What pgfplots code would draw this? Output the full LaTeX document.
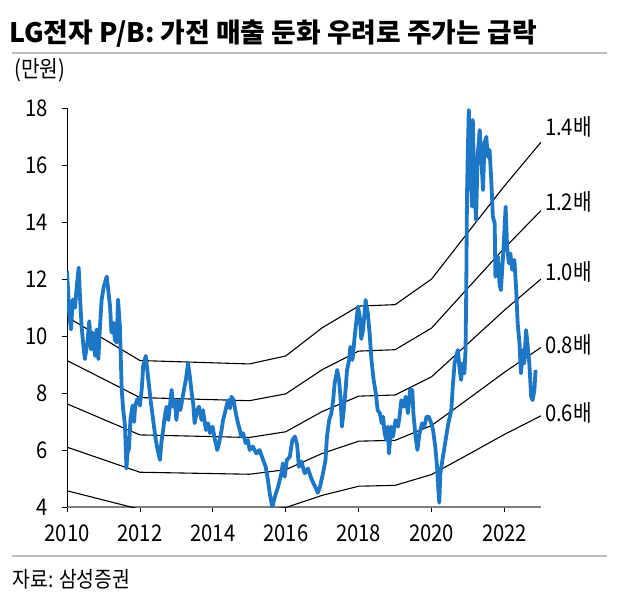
\documentclass[border=0pt]{standalone}
\usepackage{fontspec}
\setmainfont{Noto Sans CJK KR}[FakeStretch=0.88]
\newfontfamily\titlefont{Noto Sans CJK KR}
\usepackage{pgfplots}
\pgfplotsset{compat=1.18}
\definecolor{lgblue}{RGB}{28,120,198}
\definecolor{rulegray}{RGB}{190,190,190}
\begin{document}
\begin{tikzpicture}
\useasboundingbox (0,0) rectangle (313.5pt,-306pt);
\node[anchor=base west, inner sep=0pt, font=\titlefont\fontsize{13.4}{14}\selectfont\bfseries] at (4.5pt,-21pt) {LG전자 P/B: 가전 매출 둔화 우려로 주가는 급락};
\draw[rulegray, line width=0.75pt] (6pt,-26.5pt) -- (303.5pt,-26.5pt);
\node[anchor=west, inner sep=0pt, font=\fontsize{11.5}{12}\selectfont] at (7pt,-35pt) {(만원)};
\draw[rulegray, line width=0.75pt] (6pt,-278pt) -- (303.5pt,-278pt);
\node[anchor=west, inner sep=0pt, font=\fontsize{11}{12}\selectfont] at (6pt,-289.5pt) {자료: 삼성증권};
\begin{axis}[
  scale only axis, width=237pt, height=199.5pt,
  at={(33.5pt,-253.5pt)}, anchor=south west,
  xmin=2010, xmax=2023, ymin=4, ymax=18,
  axis lines=left,
  axis line style={-},
  x axis line style={-, gray, line width=0.8pt},
  y axis line style={-, black, line width=0.5pt},
  xtick={2010,2012,2014,2016,2018,2020,2022},
  xticklabels={2010,2012,2014,2016,2018,2020,2022},
  ytick={4,6,8,10,12,14,16,18},
  yticklabels={4,6,8,10,12,14,16,18},
  tick align=outside, major tick length=2.5pt,
  tick style={black, line width=0.4pt},
  ticklabel style={font=\fontsize{11.5}{12}\selectfont, inner sep=0pt},
  yticklabel style={anchor=east, xshift=-7pt},
  xticklabel style={anchor=north, yshift=-6pt},
  clip mode=individual,
]
% P/B bands
\addplot[black, line width=0.55pt] coordinates {(2010,4.57) (2012,3.92) (2015,3.86) (2016,3.98) (2017,4.41) (2018,4.73) (2019,4.76) (2020,5.14) (2021,5.84) (2022,6.55) (2023,7.20)};
\addplot[black, line width=0.55pt] coordinates {(2010,6.10) (2012,5.22) (2015,5.15) (2016,5.31) (2017,5.88) (2018,6.31) (2019,6.34) (2020,6.86) (2021,7.79) (2022,8.73) (2023,9.60)};
\addplot[black, line width=0.55pt] coordinates {(2010,7.62) (2012,6.53) (2015,6.44) (2016,6.64) (2017,7.35) (2018,7.89) (2019,7.93) (2020,8.57) (2021,9.74) (2022,10.91) (2023,12.00)};
\addplot[black, line width=0.55pt] coordinates {(2010,9.14) (2012,7.84) (2015,7.73) (2016,7.97) (2017,8.82) (2018,9.47) (2019,9.52) (2020,10.28) (2021,11.69) (2022,13.09) (2023,14.40)};
\addplot[black, line width=0.55pt] coordinates {(2010,10.67) (2012,9.14) (2015,9.02) (2016,9.30) (2017,10.29) (2018,11.05) (2019,11.10) (2020,12.00) (2021,13.64) (2022,15.27) (2023,16.80)};
% price
\addplot[lgblue, line width=1.9pt, line join=round] coordinates {
(2010.00,12.27) (2010.03,11.60) (2010.06,10.81) (2010.11,10.23) (2010.16,11.28) (2010.22,10.99) (2010.26,11.63) (2010.32,12.40) (2010.36,11.28) (2010.40,10.35) (2010.45,9.65) (2010.49,9.19) (2010.56,9.77) (2010.61,10.52) (2010.66,9.53) (2010.70,10.12) (2010.77,9.30) (2010.81,10.23) (2010.86,9.19) (2010.90,10.23) (2010.95,11.28)
(2011.01,11.74) (2011.09,12.09) (2011.13,11.63) (2011.18,11.05) (2011.22,10.12) (2011.27,10.47) (2011.31,9.88) (2011.36,9.77) (2011.40,11.28) (2011.45,10.35) (2011.50,8.14) (2011.54,7.44) (2011.59,6.86) (2011.63,5.35) (2011.66,5.90) (2011.70,6.05) (2011.74,7.09) (2011.80,7.56) (2011.84,6.98) (2011.87,7.56) (2011.93,7.79)
(2012.00,7.56) (2012.05,8.14) (2012.09,8.95) (2012.16,9.30) (2012.21,8.72) (2012.26,8.14) (2012.30,7.67) (2012.37,6.98) (2012.43,6.40) (2012.48,6.05) (2012.55,5.65) (2012.59,6.28) (2012.64,6.74) (2012.68,7.17) (2012.73,7.52) (2012.78,7.05) (2012.87,8.11) (2012.91,7.52) (2012.96,7.75)
(2013.00,7.05) (2013.05,7.75) (2013.11,7.40) (2013.19,7.99) (2013.26,8.46) (2013.32,9.04) (2013.37,8.57) (2013.41,8.11) (2013.46,7.64) (2013.50,6.94) (2013.57,7.40) (2013.62,7.52) (2013.69,7.05) (2013.73,7.40) (2013.81,6.70) (2013.87,6.94) (2013.92,6.59) (2013.99,6.82)
(2014.06,6.35) (2014.12,6.00) (2014.17,6.24) (2014.24,6.70) (2014.28,7.05) (2014.33,7.29) (2014.37,7.52) (2014.42,7.75) (2014.47,7.46) (2014.51,7.87) (2014.57,7.75) (2014.63,7.29) (2014.69,6.94) (2014.74,6.70) (2014.78,6.47) (2014.83,6.59) (2014.90,6.24) (2014.96,6.35)
(2015.01,6.00) (2015.10,6.12) (2015.19,5.88) (2015.28,6.00) (2015.38,5.65) (2015.45,5.41) (2015.51,4.95) (2015.56,4.48) (2015.63,4.00) (2015.70,4.35) (2015.79,4.71) (2015.88,5.18) (2015.92,5.53) (2015.97,5.06)
(2016.03,5.65) (2016.11,5.76) (2016.18,6.35) (2016.25,6.47) (2016.31,6.20) (2016.36,5.41) (2016.43,5.60) (2016.52,5.18) (2016.61,5.35) (2016.70,5.00) (2016.79,4.75) (2016.88,4.50) (2016.94,4.71)
(2017.02,5.18) (2017.09,5.65) (2017.13,6.47) (2017.19,7.05) (2017.25,7.29) (2017.30,7.75) (2017.34,8.34) (2017.41,8.81) (2017.46,8.46) (2017.50,7.87) (2017.54,6.82) (2017.59,7.40) (2017.64,8.11) (2017.68,8.81) (2017.74,9.16) (2017.77,9.62) (2017.83,9.16) (2017.89,9.98) (2017.93,10.45) (2017.98,11.03)
(2018.03,10.68) (2018.07,9.90) (2018.12,10.21) (2018.19,11.26) (2018.25,10.80) (2018.30,10.09) (2018.35,9.16) (2018.41,8.46) (2018.47,7.99) (2018.52,7.40) (2018.58,7.29) (2018.63,6.94) (2018.67,7.17) (2018.71,6.59) (2018.76,6.35) (2018.80,6.82) (2018.83,5.88) (2018.89,6.82) (2018.94,6.47)
(2019.01,7.05) (2019.08,6.82) (2019.12,7.17) (2019.17,7.75) (2019.23,7.52) (2019.29,7.87) (2019.35,7.29) (2019.41,8.11) (2019.47,8.11) (2019.50,7.29) (2019.56,6.47) (2019.61,6.00) (2019.67,6.59) (2019.74,6.94) (2019.80,6.82) (2019.86,7.17) (2019.92,7.17) (2019.99,6.94)
(2020.04,6.70) (2020.10,6.12) (2020.15,5.41) (2020.18,4.71) (2020.21,4.15) (2020.24,5.18) (2020.31,5.76) (2020.40,6.47) (2020.46,6.94) (2020.54,7.40) (2020.58,8.22) (2020.63,9.04) (2020.67,9.27) (2020.72,9.51) (2020.77,8.81) (2020.81,8.46) (2020.85,9.04) (2020.90,8.69) (2020.93,9.51) (2020.95,11.61) (2020.97,14.89) (2020.99,16.29)
(2021.02,17.93) (2021.05,16.88) (2021.08,15.36) (2021.11,14.54) (2021.13,17.58) (2021.17,15.12) (2021.22,14.07) (2021.26,16.29) (2021.32,17.23) (2021.36,16.29) (2021.41,15.12) (2021.45,16.76) (2021.50,16.99) (2021.54,16.29) (2021.59,16.53) (2021.64,15.36) (2021.68,14.19) (2021.73,13.95) (2021.75,12.08) (2021.82,12.78) (2021.86,11.85) (2021.90,11.61) (2021.97,13.02)
(2022.03,14.54) (2022.07,13.13) (2022.12,12.55) (2022.16,12.90) (2022.21,12.32) (2022.27,12.67) (2022.32,11.61) (2022.36,10.45) (2022.41,9.74) (2022.45,8.69) (2022.50,9.51) (2022.54,9.04) (2022.59,10.21) (2022.63,9.74) (2022.68,9.04) (2022.73,7.87) (2022.77,7.75) (2022.82,8.11) (2022.85,8.81)
};
\node[anchor=west, inner sep=0pt, font=\fontsize{11.5}{12}\selectfont] at (axis cs:2023.1,17.33) {1.4배};
\node[anchor=west, inner sep=0pt, font=\fontsize{11.5}{12}\selectfont] at (axis cs:2023.1,14.71) {1.2배};
\node[anchor=west, inner sep=0pt, font=\fontsize{11.5}{12}\selectfont] at (axis cs:2023.1,12.26) {1.0배};
\node[anchor=west, inner sep=0pt, font=\fontsize{11.5}{12}\selectfont] at (axis cs:2023.1,9.68) {0.8배};
\node[anchor=west, inner sep=0pt, font=\fontsize{11.5}{12}\selectfont] at (axis cs:2023.1,7.30) {0.6배};
\end{axis}
\end{tikzpicture}
\end{document}
